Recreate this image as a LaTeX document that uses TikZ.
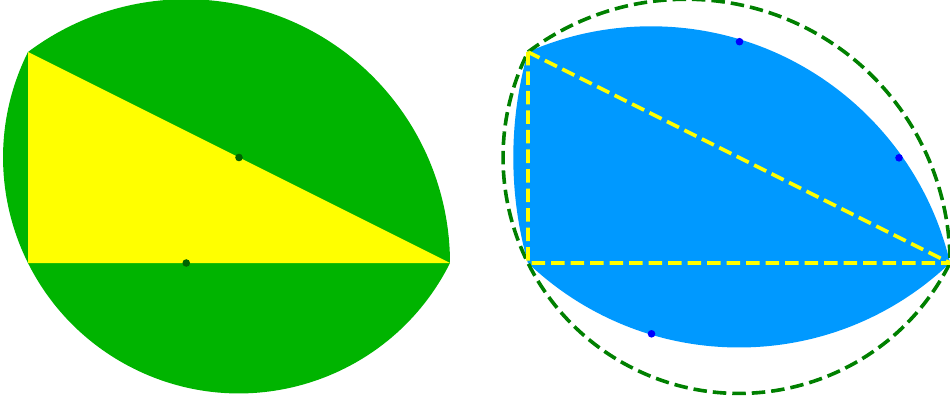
\documentclass[tikz,border=0pt]{standalone}
\definecolor{leafgreen}{RGB}{0,180,0}
\definecolor{dotgreen}{RGB}{0,100,0}
\definecolor{skyblue}{RGB}{0,153,255}
\definecolor{dashgreen}{RGB}{0,128,0}
\definecolor{dotblue}{RGB}{0,0,255}
\definecolor{tri}{RGB}{255,255,0}
\tikzset{
  dashline/.style={line width=3.6pt, dash pattern=on 13.5pt off 6pt},
  gdot/.style={fill=dotgreen},
  bdot/.style={fill=dotblue}
}
\begin{document}
\begin{tikzpicture}[x=1pt,y=1pt]
\useasboundingbox (0,0) rectangle (950,405);
% left figure
\coordinate (A) at (28,353);
\coordinate (B) at (28,142);
\coordinate (C) at (450,142);
\coordinate (D) at (186.25,142);
\coordinate (O) at (239,247.5);
\fill[leafgreen] (A) arc[start angle=126.87, end angle=0, radius=263.75]
  arc[start angle=-26.565, end angle=-206.565, radius=235.92] -- cycle;
\fill[tri] (A) -- (B) -- (C) -- cycle;
\fill[gdot] (D) circle (3.8);
\fill[gdot] (O) circle (3.8);
% right figure
\coordinate (A2) at (528,353);
\coordinate (B2) at (528,142);
\coordinate (C2) at (950,142);
\coordinate (P1) at (739.5,363.3);
\coordinate (P2) at (899,247.2);
\coordinate (P3) at (651.5,71.2);
\begin{scope}
  \clip (739,363.3) circle (305.77);
  \clip (899,247.5) circle (385.7);
  \fill[skyblue] (651,71.5) circle (307.2);
\end{scope}
\draw[dashgreen, dashline] (A2) arc[start angle=126.87, end angle=0, radius=263.75]
  arc[start angle=-26.565, end angle=-206.565, radius=235.92];
\draw[tri, dashline] (A2) -- (B2) -- (C2) -- cycle;
\fill[bdot] (P1) circle (3.8);
\fill[bdot] (P2) circle (3.8);
\fill[bdot] (P3) circle (3.8);
\end{tikzpicture}
\end{document}
